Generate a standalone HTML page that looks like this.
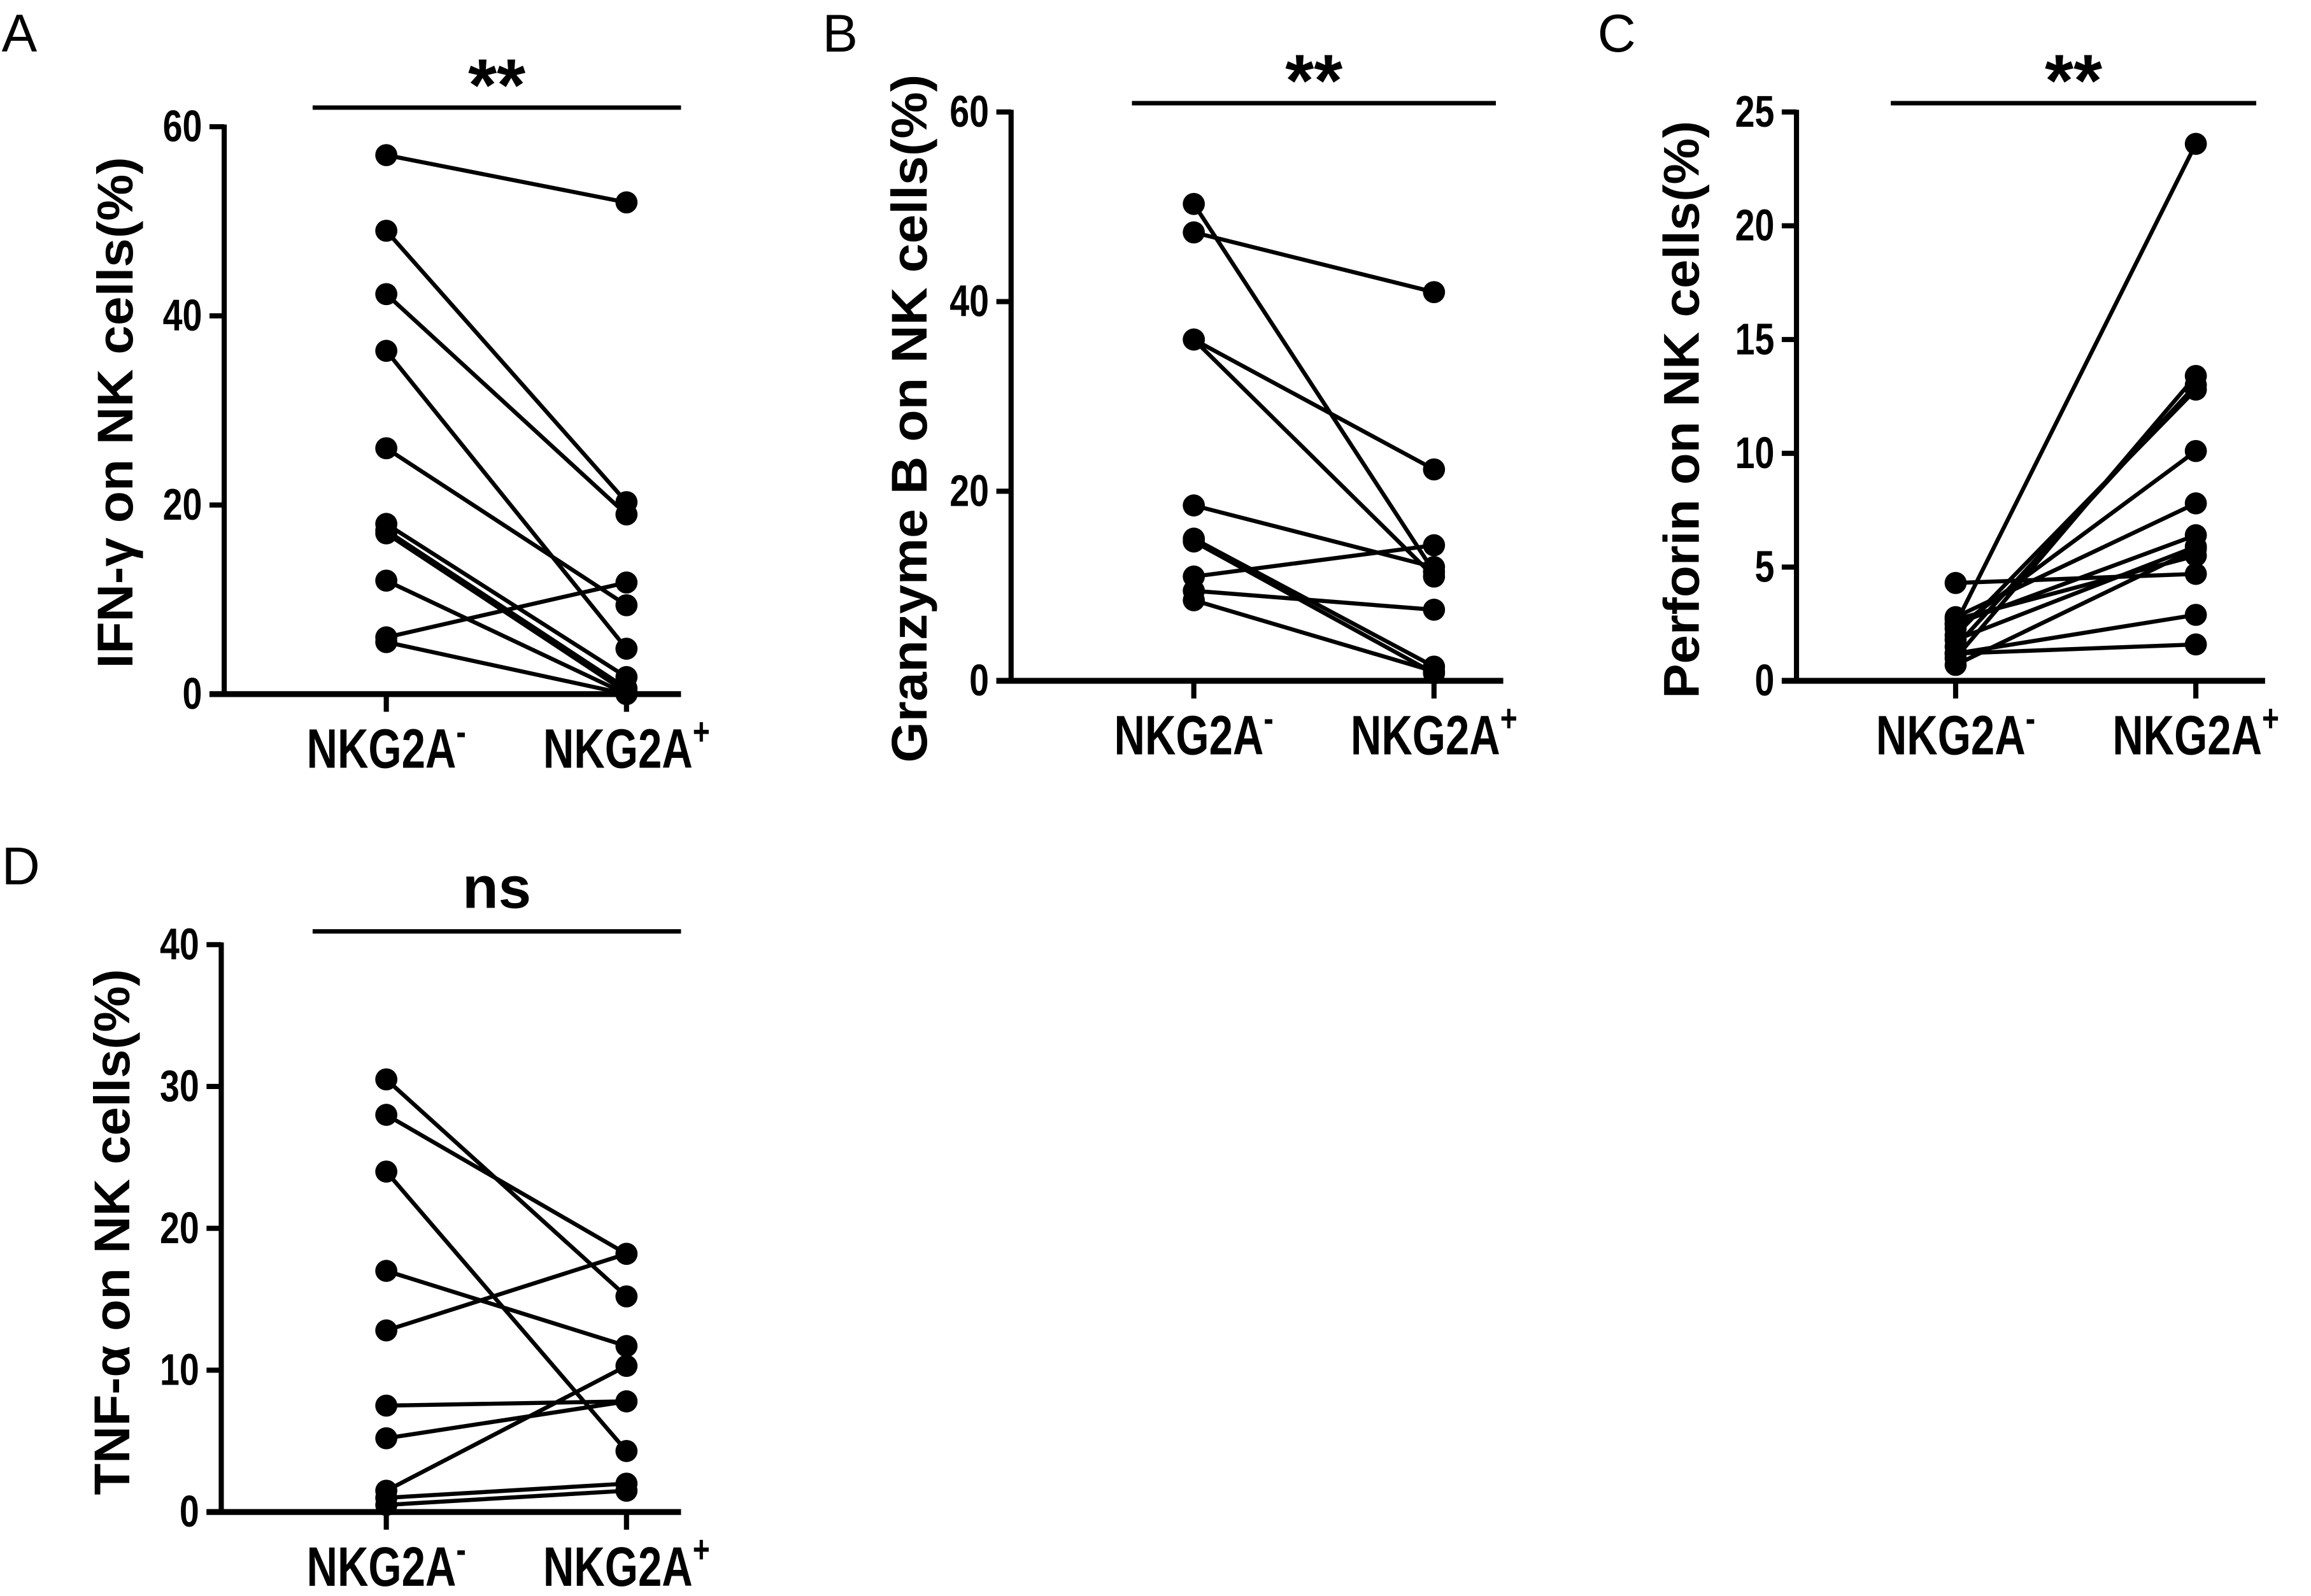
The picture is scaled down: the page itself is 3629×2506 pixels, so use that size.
<!DOCTYPE html>
<html><head><meta charset="utf-8"><style>
html,body{margin:0;padding:0;background:#fff;}
svg{display:block;font-family:"Liberation Sans",sans-serif;}
</style></head><body>
<svg id="fig" width="3629" height="2506" viewBox="0 0 1568 1083" xmlns="http://www.w3.org/2000/svg"></svg>
<script>
const categories = ["NKG2A", "NKG2A"];
const catSup = ["-", "+"];
const ifnNeg = [57, 49, 42.3, 36.3, 26, 18, 17.3, 17, 12, 6, 5.5];
const ifnPos = [52, 20.3, 19, 4.8, 9.4, 1.8, 0.6, 0.2, 0, 11.8, 0];
const gzbNeg = [50.3, 47.3, 36, 36, 18.5, 15, 14.7, 11, 9.5, 8.5];
const gzbPos = [11.5, 41, 22.3, 11, 12, 1.5, 0.8, 14.3, 7.5, 1];
const prfNeg = [2.5, 1.0, 1.5, 2.0, 2.3, 2.8, 2.5, 4.3, 1.8, 2.7, 1.2, 1.2, 0.7];
const prfPos = [23.6, 13.4, 13.0, 12.8, 10.1, 7.8, 6.4, 4.7, 5.9, 5.5, 2.9, 1.6, 5.8];
const tnfNeg = [30.5, 28, 24, 17, 12.8, 7.5, 5.2, 1.5, 1, 0.5];
const tnfPos = [15.2, 18.2, 4.3, 11.7, 18.2, 7.8, 7.8, 10.3, 2, 1.5];
const ticksA = [0, 20, 40, 60];
const ticksB = [0, 20, 40, 60];
const ticksC = [0, 5, 10, 15, 20, 25];
const ticksD = [0, 10, 20, 30, 40];

const NS = "http://www.w3.org/2000/svg";
const svg = document.getElementById("fig");
function mk(tag, attrs, parent) {
  const e = document.createElementNS(NS, tag);
  for (const k in attrs) e.setAttribute(k, attrs[k]);
  (parent || svg).appendChild(e);
  return e;
}
function panel(p) {
  const g = mk("g", {});
  
  
  const yMax = p.ticks[p.ticks.length - 1];
  const y = v => p.y0 - (v / yMax) * (p.y0 - p.yTop);
  const xs = [p.x1, p.x2];
  const lt = mk("text", {x: p.lx, y: p.ly, "font-size": 36, fill: "#000"}, g);
  lt.textContent = p.letter;
  
  
  const ya = mk("line", {x1: p.ax, y1: p.yTop - 1.5, x2: p.ax, y2: p.y0, stroke: "#000", "stroke-width": 3.5}, g);
  
  
  const xa = mk("line", {x1: p.ax - 10, y1: p.y0, x2: p.axEnd, y2: p.y0, stroke: "#000", "stroke-width": 4}, g);
  
  
  p.ticks.forEach(t => {
    mk("line", {x1: p.ax - 10, y1: y(t), x2: p.ax, y2: y(t), stroke: "#000", "stroke-width": 3.5}, g);
    const tl = mk("text", {transform: `translate(${p.ax - 15},${y(t) + 10}) scale(1,1.25)`, "font-size": 24, "font-weight": "bold", "text-anchor": "end"}, g);
    tl.textContent = t;
    
    
  });
  xs.forEach((x, i) => {
    mk("line", {x1: x, y1: p.y0, x2: x, y2: p.y0 + 12, stroke: "#000", "stroke-width": 3.5}, g);
    const cl = mk("text", {transform: `translate(${x},${p.y0 + 50}) scale(1,1.3)`, "font-size": 29, "font-weight": "bold", "text-anchor": "middle"}, g);
    cl.textContent = categories[i];
    const s = mk("tspan", {"font-size": 20, dy: -12}, cl);
    s.textContent = catSup[i];
    
    
  });
  const yt = mk("text", {transform: `translate(${p.tx},${p.tc}) rotate(-90)`, "font-size": 34, "font-weight": "bold", "text-anchor": "middle", "dominant-baseline": "central", textLength: p.tl, lengthAdjust: "spacingAndGlyphs"}, g);
  yt.textContent = p.title;
  
  
  const bar = mk("line", {x1: p.b1, y1: p.by, x2: p.b2, y2: p.by, stroke: "#000", "stroke-width": 3}, g);
  
  
  const st = mk("text", {x: (p.b1 + p.b2) / 2, y: p.sig === "ns" ? p.by - 16 : p.by + 2, "font-size": p.sig === "ns" ? 40 : 50, "font-weight": "bold", "text-anchor": "middle"}, g);
  st.textContent = p.sig;
  
  
  p.neg.forEach((v, i) => {
    const ln = mk("line", {x1: xs[0], y1: y(v), x2: xs[1], y2: y(p.pos[i]), stroke: "#000", "stroke-width": 2.8}, g);
    
    
  });
  p.neg.forEach((v, i) => {
    const a = mk("circle", {cx: xs[0], cy: y(v), r: 7.5, fill: "#000"}, g);
    
    
    const b = mk("circle", {cx: xs[1], cy: y(p.pos[i]), r: 7.5, fill: "#000"}, g);
    
    
  });
}
panel({letter: "A", lx: 1, ly: 35, ax: 152, axEnd: 462, y0: 471, yTop: 86, x1: 262, x2: 425, ticks: ticksA, neg: ifnNeg, pos: ifnPos, title: "IFN-γ on NK cells(%)", tx: 78, tc: 280, tl: 347, b1: 212, b2: 462, by: 73, sig: "**"});
panel({letter: "B", lx: 558, ly: 35, ax: 686, axEnd: 1020, y0: 462, yTop: 76, x1: 810, x2: 973, ticks: ticksB, neg: gzbNeg, pos: gzbPos, title: "Granzyme B on NK cells(%)", tx: 617, tc: 284, tl: 467, b1: 768, b2: 1015, by: 70, sig: "**"});
panel({letter: "C", lx: 1084, ly: 35, ax: 1219, axEnd: 1537, y0: 462, yTop: 76, x1: 1327, x2: 1490, ticks: ticksC, neg: prfNeg, pos: prfPos, title: "Perforin on NK cells(%)", tx: 1141, tc: 278, tl: 392, b1: 1283, b2: 1531, by: 70, sig: "**"});
panel({letter: "D", lx: 1, ly: 600, ax: 150, axEnd: 462, y0: 1026, yTop: 641, x1: 262, x2: 425, ticks: ticksD, neg: tnfNeg, pos: tnfPos, title: "TNF-α on NK cells(%)", tx: 76, tc: 836, tl: 357, b1: 212, b2: 462, by: 632, sig: "ns"});
</script>
</body></html>
